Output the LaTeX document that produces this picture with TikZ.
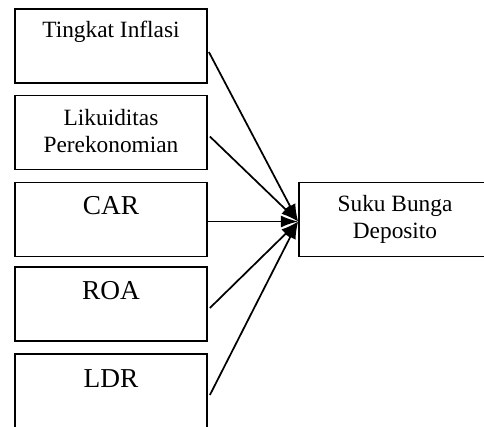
\documentclass[tikz,border=0pt]{standalone}
\usepackage{fontspec}
\setmainfont{Liberation Serif}
\usetikzlibrary{arrows.meta,calc}
\tikzset{
  kotak/.style={draw,line width=1.3pt,minimum width=144pt,minimum height=55.5pt,inner sep=0pt},
  teks/.style={inner sep=0pt,anchor=base,align=center,font=\fontsize{17.5}{20.25}\selectfont},
  teksbesar/.style={teks,font=\fontsize{20.5}{24}\selectfont},
  panah/.style={line width=1.3pt,-{Latex[length=13pt,width=9pt]}}
}
\begin{document}
\begin{tikzpicture}[x=0.75pt,y=-0.75pt]
        \useasboundingbox (0,0) rectangle (484,426);
        % kotak variabel bebas
        \node[kotak] (inflasi) at (111,46) {};
        \node[kotak] (likuiditas) at (111,132.5) {};
        \node[kotak] (car) at (111,219.5) {};
        \node[kotak] (roa) at (111,304) {};
        \node[kotak] (ldr) at (111,391) {};
        % kotak variabel terikat
        \node[kotak] (deposito) at (395,219.5) {};
        \coordinate (ujung) at ($(deposito.west)+(0,2)$);
        % label
        \node[teks] (tInflasi) at ($(inflasi.north)+(0,29)$) {Tingkat Inflasi};
        \node[teks] (tLikuiditas) at ($(likuiditas.north)+(0,58)$) {Likuiditas\\Perekonomian};
        \node[teksbesar] (tCar) at ($(car.north)+(0,33)$) {CAR};
        \node[teksbesar] (tRoa) at ($(roa.north)+(0,33)$) {ROA};
        \node[teksbesar] (tLdr) at ($(ldr.north)+(0,34)$) {LDR};
        \node[teks] (tDeposito) at ($(deposito.north)+(0,57)$) {Suku Bunga\\Deposito};
        % panah ke suku bunga deposito
        \draw[panah] ($(inflasi.east)+(1,6)$) -- (ujung);
        \draw[panah] ($(likuiditas.east)+(2,4)$) -- (ujung);
        \draw[panah] ($(car.east)+(0,2)$) -- (ujung);
        \draw[panah] ($(roa.east)+(2,4)$) -- (ujung);
        \draw[panah] ($(ldr.east)+(2,4)$) -- (ujung);
\end{tikzpicture}
\end{document}
